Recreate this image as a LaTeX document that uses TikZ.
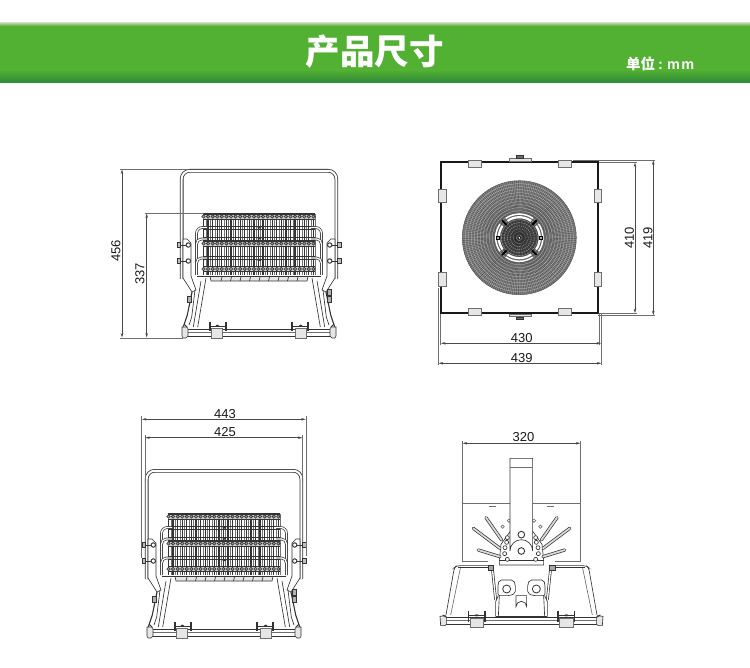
\documentclass[tikz,border=0pt]{standalone}
\usepackage{fontspec}
\setmainfont{Liberation Sans}
\newfontfamily\cjk{Noto Sans CJK SC}
\usetikzlibrary{arrows.meta,calc}
\definecolor{lineC}{HTML}{333333}
\definecolor{dimC}{HTML}{4A4A4A}
\definecolor{midC}{HTML}{6E6E6E}
\definecolor{clipC}{HTML}{E6E6E6}
\definecolor{HeaderGreen}{HTML}{52B032}
\definecolor{HeaderDark}{HTML}{2F8A3A}
\definecolor{HeaderLight}{HTML}{B5D3A5}
\tikzset{
  dimline/.style={draw=dimC,line width=.6pt,{Stealth[length=4.5pt,width=2.6pt]}-{Stealth[length=4.5pt,width=2.6pt]}},
  extline/.style={draw=midC,line width=.6pt},
  dimtext/.style={font=\fontsize{13}{13}\selectfont,text=black!90,inner sep=0pt},
  tube/.style={draw=lineC,line width=.8pt,double=white,double distance=2pt},
  thin tube/.style={draw=lineC,line width=.7pt,double=white,double distance=1.3pt},
  part/.style={draw=lineC,line width=.65pt},
  rod/.style={draw=lineC,line width=.7pt,double=white!85!black,double distance=1.8pt,line cap=round},
  clipbox/.style={draw=midC,fill=clipC,line width=.7pt},
}
\newcommand\dimln[3]{\coordinate (#1a) at (#2);\coordinate (#1b) at (#3);\draw[dimline] (#1a) -- (#1b);}
% left half of the front view, drawn twice
\newcommand\lamphalf{%
  % plate on the arm
  \draw[part,fill=white,line join=round] (183,239) -- (187,239) -- (191,243) -- (191,276) -- (196,290) -- (192,292) -- (183,278) -- cycle;
  \foreach \yy in {245,261}{
    \draw[part,fill=black!25] (177,\yy-2.8) rectangle (180.5,\yy+2.8);
    \draw[part,line width=1pt,fill=white] (188.3,\yy) circle [radius=2.2];
    \draw[part] (180.5,\yy) -- (186,\yy);
  }
  % side tubes
  \draw[thin tube,rounded corners=6pt] (196.5,275) -- (196.5,227.5) -- (207,227.5);
  \draw[thin tube,rounded corners=5pt] (196.5,250) -- (196.5,239) -- (207,239);
  \draw[thin tube,rounded corners=5pt] (196.5,270) -- (196.5,258) -- (207,258);
  % base legs
  \draw[part,line width=1.1pt] (192,292) -- (187.3,315) -- (183.3,327);
  \draw[part] (195,290) -- (191.7,317) -- (189,325);
  \draw[part] (201,281) -- (193.3,327);
  \draw[part] (206,278) -- (197.7,327);
  % end cap
  \draw[part,fill=clipC] (182,327) -- (187,327) -- (188,329) -- (188,336) -- (186,338) -- (183,338) -- (182,336) -- cycle;
  \draw[part,line width=1pt] (184,324) -- (187,327);
  % clamp
  \draw[part,line width=1.3pt] (210,322) -- (210,331);
  \draw[part,line width=1.3pt] (226,322) -- (226,331);
  \draw[part] (210,326) -- (226,326);
  \draw[clipbox] (211.5,328) rectangle (222.7,338);
  \fill[lineC] (217.3,325.7) ellipse [x radius=1.8,y radius=1.1];
}
\newcommand\lampfront{%
  % handle
  \draw[tube,rounded corners=8pt] (181.7,279) -- (181.7,170.8) -- (336.3,170.8) -- (336.3,279);
  % fins
  \foreach \i in {0,...,24}{
    \draw[lineC,line width=1.25pt] (203.5+\i*4.58,214) -- (203.5+\i*4.58,275);
    \draw[black!55,line width=.4pt] (205.7+\i*4.58,214) -- (205.7+\i*4.58,275);
  }
  \draw[lineC,line width=.9pt] (203,213) -- (314.5,213);
  \foreach \yy in {216.5,243.5,269}{
    \fill[black!20] (203,\yy-2.4) rectangle (314.5,\yy+2.4);
    \draw[lineC,line width=.6pt] (203,\yy-2.4) -- (314.5,\yy-2.4) (203,\yy+2.4) -- (314.5,\yy+2.4);
    \foreach \i in {0,...,24}{
      \draw[lineC,line width=.6pt,fill=black!40] (203.5+\i*4.58,\yy) circle [radius=1.7];
    }
  }
  \foreach \yy in {228,239,258}{
    \draw[lineC,line width=.8pt] (203,\yy-1.4) -- (314.5,\yy-1.4) (203,\yy+1.2) -- (314.5,\yy+1.2);
  }
  \fill[lineC] (257.5,226.5) rectangle (261,228.5) (257.5,237.5) rectangle (261,239.5) (257.5,259) rectangle (261,261);
  % tray below the fins
  \draw[part] (197,276) -- (321,276);
  \draw[part,fill=clipC] (210,276.5) -- (211,281) -- (307,281) -- (308,276.5) -- cycle;
  \foreach \i in {0,...,8}{\draw[lineC,line width=.7pt] (222+\i*9.5,277) -- (221+\i*9.5,281);}
  % foot bar
  \draw[part,fill=white] (186,329) rectangle (332,336);
  \draw[part,draw=midC] (186,332) -- (332,332);
  \lamphalf
  \begin{scope}[shift={(518,0)},xscale=-1]\lamphalf\end{scope}
  % extra bolts beside the legs
  \draw[part,fill=black!30] (187.5,296) rectangle (191,302);
  \draw[part,fill=black!30] (327,289) rectangle (331,295) (327,296) rectangle (331,302);
}
\begin{document}
\begin{tikzpicture}[x=1pt,y=-1pt]
\useasboundingbox (0,0) rectangle (750,668);
\fill[white] (0,0) rectangle (750,668);
% ---------- header ----------
\shade[top color=white,bottom color=HeaderLight] (0,21) rectangle (750,23);
\shade[top color=HeaderLight,bottom color=HeaderGreen] (0,23) rectangle (750,26);
\fill[HeaderGreen] (0,26) rectangle (750,70);
\shade[top color=HeaderGreen,bottom color=HeaderDark] (0,70) rectangle (750,82.5);
\node[text=white,inner sep=0pt,font=\cjk\bfseries\fontsize{34.5}{34.5}\selectfont] (title) at (374.5,52) {产品尺寸};
\node[text=white,inner sep=0pt,anchor=west,font=\bfseries\fontsize{14.5}{14.5}\selectfont] (unit) at (626,64) {{\cjk 单位}\kern3pt:\kern4pt m\kern1.5pt m};
% ---------- top left view ----------
\lampfront
\draw[extline] (120,169) -- (188,169) (145,213) -- (204,213) (120,338) -- (183,338);
\dimln{da}{122,169.5}{122,337.5}
\dimln{db}{146.7,213.5}{146.7,337.5}
\node[dimtext,rotate=90] (t456) at (116,251) {456};
\node[dimtext,rotate=90] (t337) at (140,274) {337};
% ---------- bottom left view ----------
\begin{scope}[shift={(-35,300)}]\lampfront\end{scope}
\draw[extline] (141.7,416) -- (141.7,558) (306,416) -- (306,556) (145,435) -- (145,482) (302.7,435) -- (302.7,482);
\dimln{dc}{142,419.3}{305.7,419.3}
\dimln{dd}{145.3,437.7}{302.4,437.7}
\node[dimtext] (t443) at (225,414) {443};
\node[dimtext] (t425) at (225,432.5) {425};
% ---------- top right view ----------
\draw[extline] (438.3,288) -- (438.3,365) (440.7,313) -- (440.7,345) (599,313) -- (599,345) (601.7,313) -- (601.7,365)
  (573,160) -- (655,160) (598,162.3) -- (637,162.3) (598,313.3) -- (637,313.3) (598,315.5) -- (655,315.5);
\dimln{de}{441,343.3}{601,343.3}
\dimln{df}{438.6,363.3}{601.4,363.3}
\dimln{dg}{635,162.6}{635,313}
\dimln{dh}{653.3,160.3}{653.3,315.2}
\node[dimtext] (t430) at (521.7,338) {430};
\node[dimtext] (t439) at (521.7,358.5) {439};
\node[dimtext,rotate=90] (t410) at (629.5,238) {410};
\node[dimtext,rotate=90] (t419) at (648,238) {419};
% square frame and clips
\draw[black!90,line width=1.9pt] (440.7,162.3) rectangle (598.3,313.3);
\foreach \xx in {468.3,558.3}{
  \draw[clipbox] (\xx,160) rectangle (\xx+13.4,167.3);
  \draw[clipbox] (\xx,308.3) rectangle (\xx+13.4,315.7);
}
\foreach \yy in {189.3,272.7}{
  \draw[clipbox] (438.3,\yy) rectangle (446,\yy+13.4);
  \draw[clipbox] (594,\yy) rectangle (601.7,\yy+13.4);
}
\draw[clipbox] (509,158.3) rectangle (531.7,161.5);
\draw[part,fill=midC] (516.7,155) rectangle (523.3,158.3);
\draw[clipbox] (509,314) rectangle (531.7,316.7);
\draw[part,fill=midC] (516.7,317) rectangle (523.3,319.7);
% reflector disc
\begin{scope}[shift={(519.3,237.7)}]
  \fill[black!48] (0,0) circle [radius=57];
  \foreach \a in {1,3,...,359}{\draw[black!72,line width=.4pt] (\a:17) -- (\a:57);}
  \foreach \r in {21,24,...,55}{\draw[black!22,line width=.25pt] (0,0) circle [radius=\r];}
  \draw[black!65,line width=.5pt] (0,0) circle [radius=57];
  \fill[black!72] (0,0) circle [radius=19];
  \foreach \r in {3,6,...,18}{\draw[black!35,line width=.35pt] (0,0) circle [radius=\r];}
  \foreach \a in {5,15,...,355}{\draw[black!88,line width=.3pt] (\a:3) -- (\a:18);}
  \fill[white] (0,0) circle [radius=1.6];
  \draw[black,line width=.5pt] (0,0) circle [radius=1.6];
  \foreach \s/\e in {-35/35,55/125,145/215,235/305}{
    \draw[white,line width=2.2pt] (\s:20.5) arc [start angle=\s,end angle=\e,radius=20.5];
    \draw[white,line width=1.5pt] (\s:23.6) arc [start angle=\s,end angle=\e,radius=23.6];
  }
  \foreach \a in {45,135,225,315}{\draw[black,line width=1.8pt] (\a:18) -- (\a:24.5);}
  \foreach \a in {0,180}{\draw[black,fill=black!35,line width=.4pt] ($(\a:21.3)+(-1.4,-1.8)$) rectangle ($(\a:21.3)+(1.4,1.8)$);}
\end{scope}
% ---------- bottom right view ----------
\draw[extline] (462.3,441) -- (462.3,561.7) (580.7,441) -- (580.7,561.7);
\dimln{di}{462.6,443.3}{580.4,443.3}
\node[dimtext] (t320) at (523.5,437.5) {320};
\begin{scope}[shift={(430,425)},scale=1/3]
\newcommand\sidehalf{%
  \draw[midC,line width=.7pt,dash pattern=on 1.2pt off .8pt] (97,235) -- (240,235);
  \draw[midC,line width=.9pt] (176,245) -- (197,245);
  \draw[extline] (97,410) -- (175,410);
  \draw[rod] (168,278) -- (215,345);
  \draw[rod] (130,310) -- (210,370);
  \draw[rod] (145,375) -- (210,395);
  \draw[part,draw=midC] (218,305) circle [radius=5] (237,287) circle [radius=5];
  % base
  \draw[part,rounded corners=3pt] (48,570) -- (73,428) -- (80,422) -- (180,422);
  \draw[part,draw=midC] (62,570) -- (92,425);
  \draw[part] (84,428) -- (180,428);
  % foot
  \draw[part,fill=clipC] (30,574) -- (46,572) -- (50,578) -- (50,598) -- (44,602) -- (32,602) -- cycle;
  \draw[lineC,line width=1pt] (38,570) -- (48,576);
  % side tube and bolts
  \draw[thin tube] (187,430) -- (197,525);
  \draw[lineC,fill=black!35,line width=.9pt] (174,421) rectangle (190,435);
  % bracket body
  \draw[part,fill=white,rounded corners=2pt] (208,465) -- (250,465) -- (256,478) -- (256,505) -- (240,512) -- (204,512) -- (204,478) -- cycle;
  \draw[part,line width=.8pt] (230,492) circle [radius=12];
  \draw[part] (197,575) -- (197,530) -- (205,512);
  \draw[part] (208,512) -- (205,575);
  \draw[part,fill=white] (232,403) circle [radius=6] (224,386) circle [radius=6] (225,368) circle [radius=6] (230,352) circle [radius=6] (232,338) circle [radius=6];
  % clamp
  \draw[lineC,line width=1.3pt] (116,558) -- (116,590) (165,558) -- (165,590);
  \draw[part] (116,572) -- (165,572);
  \draw[clipbox] (120,580) rectangle (160,608);
  \fill[lineC] (140,571) ellipse [x radius=6,y radius=3];
}
% plate behind the post
\draw[part,fill=white,line join=round] (208,405) -- (213,358) -- (240,320) -- (309,320) -- (336,358) -- (341,405) -- (341,420) -- (208,420) -- cycle;
\draw[part] (208,405) -- (341,405);
% foot bar
\draw[part,fill=white] (40,578) rectangle (510,598);
\draw[part,draw=midC] (40,586) -- (510,586);
\draw[part] (197,575) -- (352,575);
\sidehalf
\begin{scope}[shift={(549,0)},xscale=-1]\sidehalf\end{scope}
\draw[part,fill=white] (258,512) -- (258,545) arc [start angle=180,end angle=360,radius=16] -- (290,512) -- cycle;
% post
\draw[part,fill=white] (240,100) -- (308,100) -- (308,378) arc [start angle=0,end angle=-180,radius=34] -- cycle;
\draw[part,draw=midC] (240,126) -- (308,126);
\draw[part,line width=.9pt] (274,329) circle [radius=10] (274,378) circle [radius=10];
\end{scope}
\end{tikzpicture}
\end{document}
